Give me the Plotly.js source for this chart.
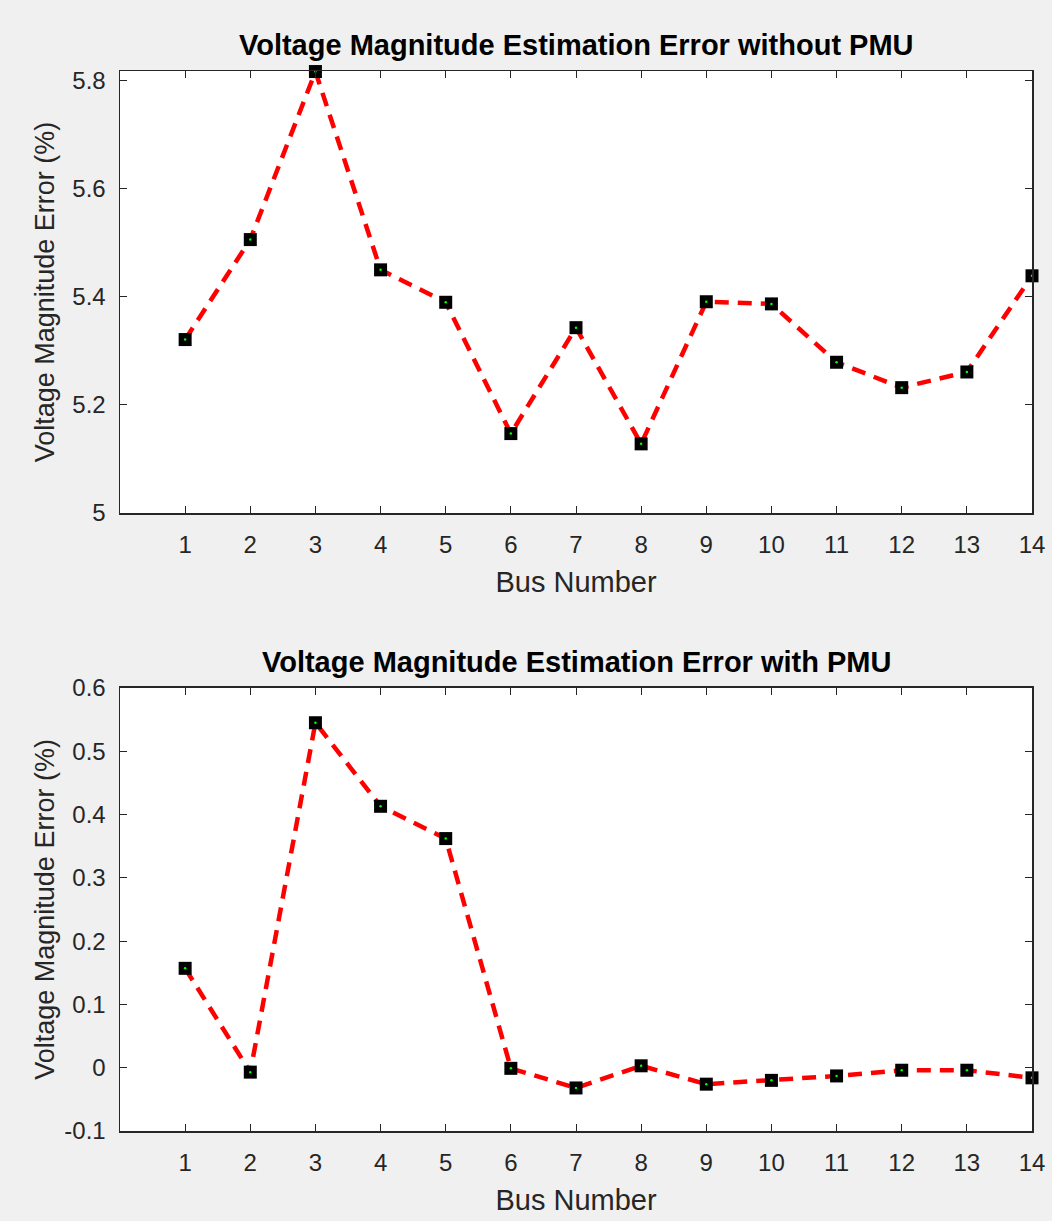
<!DOCTYPE html>
<html>
<head>
<meta charset="utf-8">
<script src="https://cdn.plot.ly/plotly-3.0.1.min.js"></script>
<style>
html,body{margin:0;padding:0;background:#f0f0f0;}
#chart{width:1052px;height:1221px;}
</style>
</head>
<body>
<div id="chart"></div>
<script>
// Data
var busNumbers = [1,2,3,4,5,6,7,8,9,10,11,12,13,14];
var errorWithoutPMU = [5.321,5.506,5.817,5.450,5.390,5.147,5.343,5.128,5.391,5.387,5.279,5.232,5.261,5.439];
var errorWithPMU = [0.157,-0.007,0.545,0.413,0.362,-0.001,-0.032,0.003,-0.026,-0.020,-0.013,-0.004,-0.004,-0.016];
var xTickVals = [1,2,3,4,5,6,7,8,9,10,11,12,13,14];
var yTicksTop = [5,5.2,5.4,5.6,5.8];
var yTickTextTop = ['5','5.2','5.4','5.6','5.8'];
var yTicksBottom = [-0.1,0,0.1,0.2,0.3,0.4,0.5,0.6];
var yTickTextBottom = ['-0.1','0','0.1','0.2','0.3','0.4','0.5','0.6'];
var titleTop = 'Voltage Magnitude Estimation Error without PMU';
var titleBottom = 'Voltage Magnitude Estimation Error with PMU';
var xLabel = 'Bus Number';
var yLabel = 'Voltage Magnitude Error (%)';

var FONT = 'Liberation Sans, Arial, Helvetica, sans-serif';
var AXC = '#262626';

function lineTrace(y, xa, ya){
  return {x: busNumbers, y: y, xaxis: xa, yaxis: ya, type:'scatter', mode:'lines+markers',
    line:{color:'#ff0000', width:4.5, dash:'14px,9px'},
    marker:{symbol:'square', size:13, color:'#000000', line:{width:0}},
    hoverinfo:'x+y', showlegend:false, cliponaxis:false};
}
function dotTrace(y, xa, ya){
  return {x: busNumbers, y: y, xaxis: xa, yaxis: ya, type:'scatter', mode:'markers',
    marker:{symbol:'circle', size:2.5, color:'#00ff00', line:{width:0}},
    hoverinfo:'skip', showlegend:false, cliponaxis:false};
}

var data = [
  lineTrace(errorWithoutPMU,'x','y'), dotTrace(errorWithoutPMU,'x','y'),
  lineTrace(errorWithPMU,'x2','y2'), dotTrace(errorWithPMU,'x2','y2')
];

function xaxis(anchor){
  return {anchor: anchor, domain:[0,1], range:[0,14], tickvals: xTickVals,
    ticks:'inside', ticklen:7, tickcolor:AXC, tickwidth:1, mirror:'ticks',
    showline:true, linecolor:AXC, linewidth:1.5, showgrid:false, zeroline:false,
    tickfont:{family:FONT, size:24, color:AXC}, ticklabelstandoff:10,
    title:{text:xLabel, font:{family:FONT, size:29, color:AXC}, standoff:14},
    automargin:false, fixedrange:true};
}
function yaxis(anchor, domain, range, ticks, text, standoff){
  return {anchor: anchor, domain: domain, range: range, tickvals: ticks, ticktext: text,
    ticks:'inside', ticklen:7, tickcolor:AXC, tickwidth:1, mirror:'ticks',
    showline:true, linecolor:AXC, linewidth:1.5, showgrid:false, zeroline:false,
    tickfont:{family:FONT, size:24, color:AXC}, ticklabelstandoff:8,
    title:{text:yLabel, font:{family:FONT, size:27, color:AXC}, standoff:standoff},
    automargin:false, fixedrange:true};
}

var layout = {
  width:1052, height:1221,
  paper_bgcolor:'#f0f0f0', plot_bgcolor:'#ffffff',
  margin:{l:120, r:20, t:71, b:90},
  showlegend:false,
  xaxis: xaxis('y'),
  yaxis: yaxis('x', [0.583,1], [5,5.818], yTicksTop, yTickTextTop, 10),
  xaxis2: xaxis('y2'),
  yaxis2: yaxis('x2', [0,0.418], [-0.1,0.6], yTicksBottom, yTickTextBottom, 2),
  annotations:[
    {text:'<b>'+titleTop+'</b>', xref:'paper', yref:'paper', x:0.5, y:1, yshift:26,
     xanchor:'center', yanchor:'middle', showarrow:false, font:{family:FONT, size:29, color:'#000000'}},
    {text:'<b>'+titleBottom+'</b>', xref:'paper', yref:'paper', x:0.5, y:0.418, yshift:26,
     xanchor:'center', yanchor:'middle', showarrow:false, font:{family:FONT, size:29, color:'#000000'}}
  ]
};

Plotly.newPlot('chart', data, layout, {displayModeBar:false, staticPlot:true});
</script>
</body>
</html>
